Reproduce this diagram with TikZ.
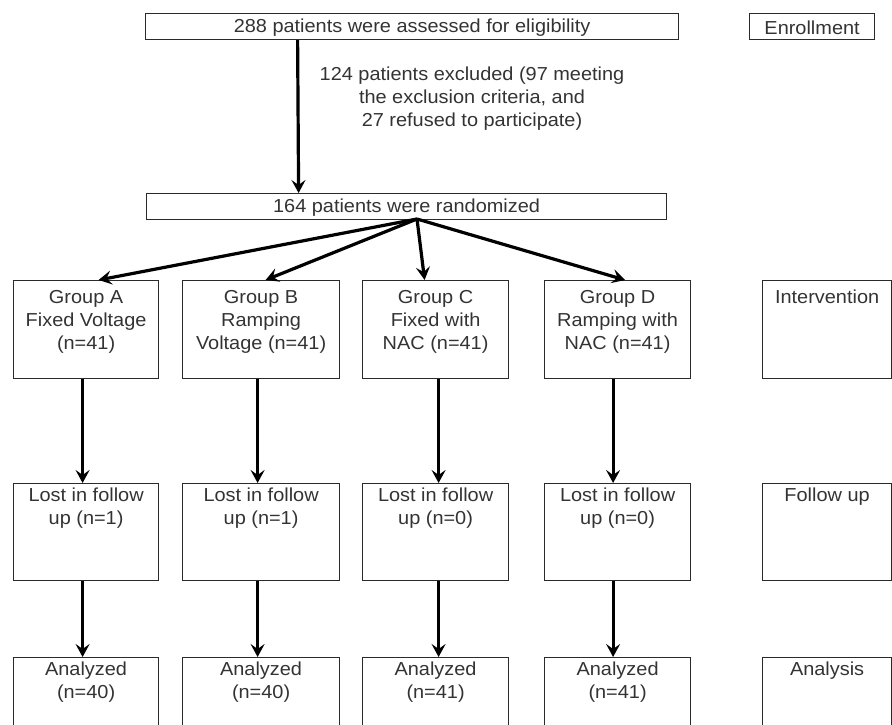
\documentclass[tikz,border=0pt]{standalone}
\usepackage{fontspec}
\setmainfont{Liberation Sans}[FakeStretch=1.06]
\usetikzlibrary{arrows.meta}
\definecolor{linec}{HTML}{2A2A2A}
\definecolor{textc}{HTML}{333333}
\begin{document}
\begin{tikzpicture}[x=1pt,y=-1pt,
  box/.style={draw=linec, line width=1.2pt, inner sep=0pt, anchor=north west, minimum height=#1},
  box/.default=98,
  txt/.style={text=textc, font=\fontsize{18.8}{23}\selectfont, align=center, inner sep=0pt},
  arr/.style={draw=black, line width=3.2pt, -{Stealth[length=13pt,width=14pt,inset=5pt]}}]
\useasboundingbox (0,0) rectangle (892,725);
\clip (0,0) rectangle (892,725);
% top row
\node[box=26, minimum width=533] (top) at (145,13) {};
\node[txt] at ([yshift=-1.5pt]top.center) {288 patients were assessed for eligibility};
\node[box=26, minimum width=125] (enr) at (749,13) {};
\node[txt] at ([yshift=-1pt]enr.center) {Enrollment};
\node[txt] (excl) at (472,99) {124 patients excluded (97 meeting\\the exclusion criteria, and\\27 refused to participate)};
\node[box=26, minimum width=520] (rand) at (146,193) {};
\node[txt] at ([yshift=-1.5pt]rand.center) {164 patients were randomized};
\coordinate (split) at (417,219);
% groups
\node[box, minimum width=145] (gA) at (13,280) {};
\node[box, minimum width=157] (gB) at (182,280) {};
\node[box, minimum width=146] (gC) at (362,280) {};
\node[box, minimum width=146] (gD) at (544,280) {};
\node[box, minimum width=129] (iv) at (762,280) {};
\node[txt, anchor=north] at ([yshift=-10pt]gA.north) {Group A\\Fixed Voltage\\(n=41)};
\node[txt, anchor=north] at ([yshift=-10pt]gB.north) {Group B\\Ramping\\Voltage (n=41)};
\node[txt, anchor=north] at ([yshift=-10pt]gC.north) {Group C\\Fixed with\\NAC (n=41)};
\node[txt, anchor=north] at ([yshift=-10pt]gD.north) {Group D\\Ramping with\\NAC (n=41)};
\node[txt, anchor=north] at ([yshift=-10pt]iv.north) {Intervention};
% lost
\node[box=97, minimum width=145] (lA) at (13,483) {};
\node[box=97, minimum width=157] (lB) at (182,483) {};
\node[box=97, minimum width=146] (lC) at (362,483) {};
\node[box=97, minimum width=146] (lD) at (544,483) {};
\node[box=97, minimum width=129] (fu) at (762,483) {};
\node[txt, anchor=north] at ([yshift=-5pt]lA.north) {Lost in follow\\up (n=1)};
\node[txt, anchor=north] at ([yshift=-5pt]lB.north) {Lost in follow\\up (n=1)};
\node[txt, anchor=north] at ([yshift=-5pt]lC.north) {Lost in follow\\up (n=0)};
\node[txt, anchor=north] at ([yshift=-5pt]lD.north) {Lost in follow\\up (n=0)};
\node[txt, anchor=north] at ([yshift=-5pt]fu.north) {Follow up};
% analyzed
\node[box=97, minimum width=145] (aA) at (13,657) {};
\node[box=97, minimum width=157] (aB) at (182,657) {};
\node[box=97, minimum width=146] (aC) at (362,657) {};
\node[box=97, minimum width=146] (aD) at (544,657) {};
\node[box=97, minimum width=129] (an) at (762,657) {};
\node[txt, anchor=north] at ([yshift=-5pt]aA.north) {Analyzed\\(n=40)};
\node[txt, anchor=north] at ([yshift=-5pt]aB.north) {Analyzed\\(n=40)};
\node[txt, anchor=north] at ([yshift=-5pt]aC.north) {Analyzed\\(n=41)};
\node[txt, anchor=north] at ([yshift=-5pt]aD.north) {Analyzed\\(n=41)};
\node[txt, anchor=north] at ([yshift=-5pt]an.north) {Analysis};
% arrows
\draw[arr] ([xshift=-114.5pt]top.south) -- ([xshift=-108pt]rand.north);
\draw[arr] (split) -- ([xshift=12.5pt]gA.north);
\draw[arr] (split) -- ([xshift=4.5pt]gB.north);
\draw[arr] (split) -- ([xshift=-11pt]gC.north);
\draw[arr] (split) -- ([xshift=7.5pt]gD.north);
\draw[arr] ([xshift=-3.5pt]gA.south) -- ([xshift=-3.5pt]lA.north);
\draw[arr] ([xshift=-3.5pt]gB.south) -- ([xshift=-3.5pt]lB.north);
\draw[arr] ([xshift=3pt]gC.south) -- ([xshift=3pt]lC.north);
\draw[arr] ([xshift=-4.5pt]gD.south) -- ([xshift=-4.5pt]lD.north);
\draw[arr] ([xshift=-3.5pt]lA.south) -- ([xshift=-3.5pt]aA.north);
\draw[arr] ([xshift=-3.5pt]lB.south) -- ([xshift=-3.5pt]aB.north);
\draw[arr] ([xshift=3pt]lC.south) -- ([xshift=3pt]aC.north);
\draw[arr] ([xshift=-4.5pt]lD.south) -- ([xshift=-4.5pt]aD.north);
\end{tikzpicture}
\end{document}
